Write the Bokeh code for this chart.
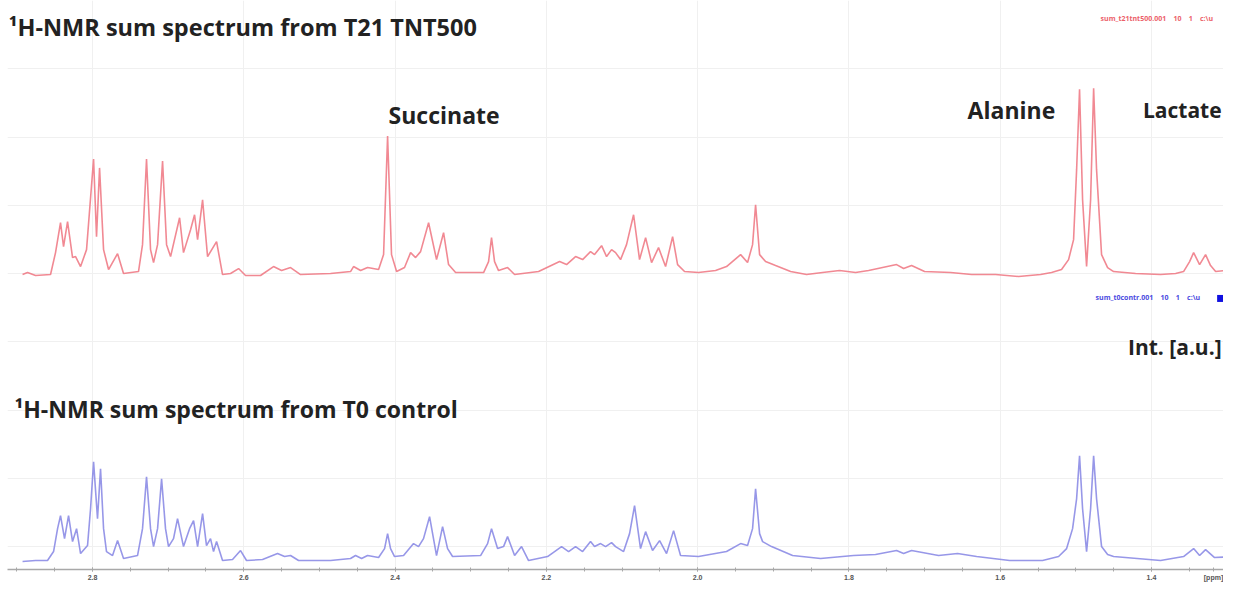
from bokeh.plotting import figure
from bokeh.models import Range1d, FixedTicker, Label
from bokeh.embed import file_html
from bokeh.resources import INLINE

# ---- data (chemical shift in ppm, intensity in a.u.) ----
t21_ppm = [2.8925, 2.8859, 2.8753, 2.8555, 2.8489, 2.8423, 2.8383, 2.8330, 2.8264, 2.8224,
           2.8158, 2.8079, 2.7986, 2.7947, 2.7907, 2.7854, 2.7788, 2.7669, 2.7590, 2.7392,
           2.7339, 2.7286, 2.7233, 2.7193, 2.7140, 2.7074, 2.7021, 2.6968, 2.6849, 2.6797,
           2.6704, 2.6651, 2.6611, 2.6545, 2.6479, 2.6360, 2.6281, 2.6175, 2.6069, 2.5977,
           2.5779, 2.5607, 2.5501, 2.5382, 2.5250, 2.4853, 2.4589, 2.4549, 2.4456, 2.4364,
           2.4218, 2.4152, 2.4099, 2.4047, 2.3980, 2.3875, 2.3795, 2.3729, 2.3663, 2.3557,
           2.3452, 2.3359, 2.3293, 2.3200, 2.2830, 2.2764, 2.2725, 2.2685, 2.2632, 2.2513,
           2.2420, 2.2103, 2.1825, 2.1733, 2.1614, 2.1521, 2.1416, 2.1363, 2.1270, 2.1204,
           2.1138, 2.1085, 2.1019, 2.0940, 2.0847, 2.0768, 2.0688, 2.0609, 2.0517, 2.0424,
           2.0331, 2.0265, 2.0173, 1.9988, 1.9763, 1.9618, 1.9432, 1.9340, 1.9274, 1.9234,
           1.9181, 1.9102, 1.8970, 1.8771, 1.8560, 1.8348, 1.8124, 1.7912, 1.7740, 1.7370,
           1.7277, 1.7172, 1.7000, 1.6656, 1.6378, 1.6061, 1.5757, 1.5466, 1.5321, 1.5189,
           1.5096, 1.5030, 1.4990, 1.4951, 1.4911, 1.4858, 1.4805, 1.4765, 1.4726, 1.4660,
           1.4580, 1.4501, 1.4210, 1.3880, 1.3681, 1.3576, 1.3496, 1.3443, 1.3364, 1.3285,
           1.3219, 1.3152, 1.3020, 1.2928]
t21_int = [0, 2, -1, 0, 22, 52, 28, 53, 17, 18,
           8, 25, 116, 38, 107, 25, 5, 21, 1, 3,
           30, 116, 25, 12, 30, 114, 30, 18, 57, 22,
           45, 60, 35, 75, 18, 33, 0, 1, 6, -1,
           -1, 8, 4, 7, 0, 1, 3, 8, 4, 7,
           5, 20, 139, 20, 3, 7, 22, 17, 23, 52,
           15, 42, 10, 2, 2, 13, 37, 13, 4, 7,
           0, 3, 13, 10, 18, 15, 23, 20, 29, 18,
           25, 22, 15, 30, 60, 15, 37, 12, 27, 8,
           38, 10, 3, 2, 4, 8, 20, 12, 30, 70,
           20, 13, 9, 3, 0, 2, 4, 2, 4, 10,
           6, 9, 3, 2, 0, 0, -2, 0, 2, 5,
           15, 35, 105, 186, 75, 8, 75, 187, 105, 20,
           7, 3, 1, 0, 1, 3, 13, 22, 10, 20,
           9, 3, 4, 5]

t0_ppm = [2.8925, 2.8753, 2.8595, 2.8515, 2.8462, 2.8423, 2.8370, 2.8317, 2.8264, 2.8211,
          2.8158, 2.8066, 2.8026, 2.7986, 2.7934, 2.7894, 2.7854, 2.7815, 2.7735, 2.7669,
          2.7590, 2.7405, 2.7339, 2.7286, 2.7233, 2.7193, 2.7140, 2.7087, 2.7035, 2.6995,
          2.6929, 2.6876, 2.6797, 2.6717, 2.6664, 2.6611, 2.6545, 2.6493, 2.6440, 2.6400,
          2.6360, 2.6281, 2.6149, 2.6043, 2.5964, 2.5752, 2.5554, 2.5461, 2.5382, 2.5276,
          2.4853, 2.4589, 2.4523, 2.4443, 2.4364, 2.4218, 2.4139, 2.4099, 2.4060, 2.4007,
          2.3888, 2.3756, 2.3690, 2.3624, 2.3544, 2.3452, 2.3372, 2.3306, 2.3240, 2.2870,
          2.2777, 2.2725, 2.2645, 2.2566, 2.2513, 2.2420, 2.2328, 2.2235, 2.1984, 2.1799,
          2.1706, 2.1614, 2.1521, 2.1416, 2.1363, 2.1283, 2.1217, 2.1138, 2.1085, 2.0979,
          2.0900, 2.0834, 2.0755, 2.0688, 2.0596, 2.0503, 2.0411, 2.0318, 2.0226, 1.9988,
          1.9618, 1.9432, 1.9340, 1.9274, 1.9234, 1.9181, 1.9141, 1.9023, 1.8745, 1.8375,
          1.7938, 1.7648, 1.7370, 1.7277, 1.7172, 1.6815, 1.6564, 1.6312, 1.5876, 1.5440,
          1.5228, 1.5122, 1.5043, 1.4990, 1.4951, 1.4911, 1.4858, 1.4805, 1.4765, 1.4726,
          1.4660, 1.4580, 1.4501, 1.3880, 1.3576, 1.3443, 1.3364, 1.3285, 1.3166, 1.2928]
t0_int = [-1, 0, 0, 9, 32, 45, 22, 45, 19, 32,
          7, 15, 52, 99, 42, 92, 32, 9, 5, 20,
          2, 5, 32, 84, 32, 14, 32, 82, 32, 14,
          22, 42, 14, 32, 40, 14, 47, 15, 22, 9,
          19, 0, 1, 10, 0, 1, 7, 4, 5, 0,
          0, 2, 5, 2, 5, 3, 12, 27, 12, 4,
          5, 17, 14, 22, 44, 5, 34, 12, 4, 5,
          17, 32, 12, 14, 24, 5, 14, 0, 4, 14,
          9, 14, 9, 19, 14, 17, 14, 18, 14, 9,
          27, 55, 12, 29, 10, 20, 7, 30, 5, 4,
          9, 17, 15, 32, 72, 27, 19, 14, 5, 2,
          5, 6, 10, 7, 10, 5, 7, 4, 0, 0,
          4, 12, 32, 62, 105, 52, 9, 52, 105, 62,
          14, 6, 4, 0, 4, 12, 5, 11, 3, 4]

x_tick_values = [2.8, 2.6, 2.4, 2.2, 2.0, 1.8, 1.6, 1.4, 1.318]
x_tick_labels = ["2.8", "2.6", "2.4", "2.2", "2.0", "1.8", "1.6", "1.4", "[ppm]"]

titles = ["\u00b9H-NMR sum spectrum from T21 TNT500", "\u00b9H-NMR sum spectrum from T0 control"]
metabolites = ["Succinate", "Alanine", "Lactate"]
GAP = "\u00a0" * 4
dataset_captions = ["sum_t21tnt500.001" + GAP + "10" + GAP + "1" + GAP + "c:\\u",
                    "sum_t0contr.001" + GAP + "10" + GAP + "1" + GAP + "c:\\u"]

# stacking offsets of the two traces (vertical layout)
T21_OFFSET = 305
T0_OFFSET = 18

p = figure(width=1223, height=583, output_backend="svg", toolbar_location=None,
           x_range=Range1d(2.9124, 1.3048), y_range=Range1d(9, 580),
           min_border_left=7, min_border_right=0, min_border_top=0, min_border_bottom=12,
           background_fill_color="white", border_fill_color="white")
p.outline_line_color = None

p.line(t21_ppm, [v + T21_OFFSET for v in t21_int],
       line_color="#ef7480", line_width=1.6, line_alpha=0.85)
p.line(t0_ppm, [v + T0_OFFSET for v in t0_int],
       line_color="#8585e4", line_width=1.6, line_alpha=0.85)

# axes / grid
p.yaxis.visible = False
p.ygrid.ticker = FixedTicker(ticks=[32, 100.5, 169, 237.5, 306, 374.5, 443, 511.5])
p.ygrid.grid_line_color = "#f0f0f0"
p.xgrid.ticker = FixedTicker(ticks=x_tick_values[:-1])
p.xgrid.grid_line_color = "#f0f0f0"

minor = [round(2.90 - 0.05 * i, 3) for i in range(33)]
p.xaxis.ticker = FixedTicker(ticks=x_tick_values, minor_ticks=minor)
p.xaxis.major_label_overrides = {v: l for v, l in zip(x_tick_values, x_tick_labels)}
p.xaxis.axis_line_color = "#a8a8a8"
p.xaxis.axis_line_width = 1.5
p.xaxis.major_tick_line_color = "#a8a8a8"
p.xaxis.minor_tick_line_color = "#a8a8a8"
p.xaxis.major_tick_in = 2
p.xaxis.major_tick_out = 2
p.xaxis.minor_tick_in = 2
p.xaxis.minor_tick_out = 2
p.xaxis.major_label_text_font_size = "7px"
p.xaxis.major_label_text_font_style = "bold"
p.xaxis.major_label_text_color = "#555555"
p.xaxis.major_label_standoff = 2

FONT = "Open Sans"


def add_text(x, y, text, size, color="#222222", style="bold", align="left"):
    p.add_layout(Label(x=x, y=y, text=text, text_font=FONT, text_font_size=size,
                       text_font_style=style, text_color=color,
                       text_baseline="middle", text_align=align))


add_text(2.9110, 553, titles[0], "23.5px")
add_text(2.9031, 170, titles[1], "23px")
add_text(2.4086, 465, metabolites[0], "23px")
add_text(1.6431, 470, metabolites[1], "23px")
add_text(1.3073, 470, metabolites[2], "21px", align="right")
add_text(1.3073, 232, "Int. [a.u.]", "21px", align="right")
# dataset captions (tiny, as in the spectrometer print-out)
add_text(1.4673, 562, dataset_captions[0], "7px", color="#ec5f6a")
add_text(1.4739, 282, dataset_captions[1], "7px", color="#4a4ae0")
p.scatter([1.3086], [281], marker="square", size=7, fill_color="#1010e0", line_color=None)

open("out.html", "w").write(file_html(p, INLINE))
